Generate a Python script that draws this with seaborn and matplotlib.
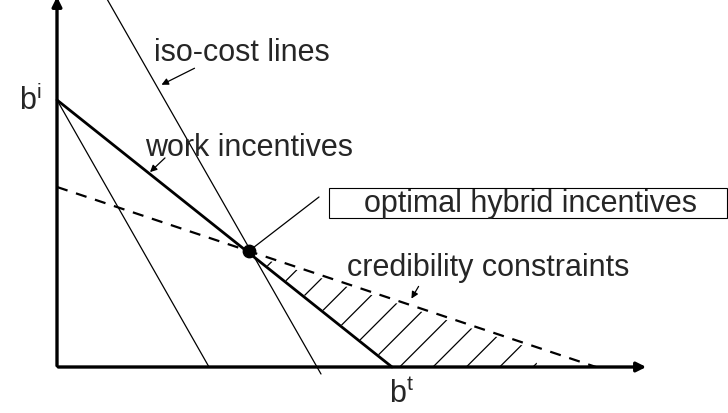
import matplotlib
matplotlib.use("Agg")
import matplotlib.pyplot as plt
import matplotlib.patches as mpatches
import seaborn as sns

# diagram data (units: b^t horizontal, b^i vertical, origin at the axes corner)
work_bt = [0, 335]
work_bi = [267, 0]
cred_bt = [0, 539]
cred_bi = [180, 0]
iso1_bt = [0, 152]
iso1_bi = [267, 0]
iso2_bt = [50, 264]
iso2_bi = [368, -7]
optimum = (192, 116)
hatch_bt = [198, 337, 482, 470]
hatch_bi = [111, 0, 0, 20]

sns.set_theme(style="white")
plt.rcParams['font.family'] = ['Liberation Sans', 'DejaVu Sans']
plt.rcParams['hatch.linewidth'] = 0.9
plt.rcParams['mathtext.fontset'] = 'custom'
plt.rcParams['mathtext.rm'] = 'Liberation Sans'

fig = plt.figure(figsize=(7.28, 4.14), dpi=100)
ax = fig.add_axes([0, 0, 1, 1])
ax.set_xlim(-57, 671)
ax.set_ylim(-46, 368)
ax.axis("off")

fs = 22

# hatched area
ax.fill(hatch_bt, hatch_bi, facecolor="none", edgecolor="black", hatch="/", linewidth=0)

# lines
sns.lineplot(x=iso1_bt, y=iso1_bi, ax=ax, color="black", linewidth=0.9, sort=False)
sns.lineplot(x=iso2_bt, y=iso2_bi, ax=ax, color="black", linewidth=0.9, sort=False)
sns.lineplot(x=work_bt, y=work_bi, ax=ax, color="black", linewidth=2.0, sort=False)
ax.plot(cred_bt, cred_bi, color="black", linewidth=1.6, dashes=(5, 4))

# axes with arrows
ax.annotate("", xy=(0, 373), xytext=(0, -1.5), annotation_clip=False,
            arrowprops=dict(arrowstyle="-|>", color="black", lw=2.4, mutation_scale=14))
ax.annotate("", xy=(592, 0), xytext=(-1.5, 0), annotation_clip=False,
            arrowprops=dict(arrowstyle="-|>", color="black", lw=2.4, mutation_scale=14))

ax.scatter([optimum[0]], [optimum[1]], s=80, color="black", zorder=5)

# axis labels
ax.text(-27, 267, r"b$^{\mathregular{i}}$", fontsize=fs, ha="center", va="center")
ax.text(345, -27, r"b$^{\mathregular{t}}$", fontsize=fs, ha="center", va="center")

# annotations
ax.text(185, 315, "iso-cost lines", fontsize=fs, ha="center", va="center")
ax.annotate("", xy=(102, 281), xytext=(140, 300),
            arrowprops=dict(arrowstyle="-|>", color="black", lw=0.9, mutation_scale=10))

ax.text(192, 220, "work incentives", fontsize=fs, ha="center", va="center")
ax.annotate("", xy=(91, 193), xytext=(110, 211),
            arrowprops=dict(arrowstyle="-|>", color="black", lw=0.9, mutation_scale=10))

ax.add_patch(mpatches.Rectangle((272, 149), 398, 30, fill=False, edgecolor="black",
                                linewidth=0.8, clip_on=False))
ax.text(474, 164, "optimal hybrid incentives", fontsize=fs, ha="center", va="center")
ax.plot([262, optimum[0]], [170, optimum[1]], color="black", linewidth=0.9)

ax.text(431, 100, "credibility constraints", fontsize=fs, ha="center", va="center")
ax.annotate("", xy=(353, 66), xytext=(363, 83),
            arrowprops=dict(arrowstyle="-|>", color="black", lw=0.9, mutation_scale=10))

fig.savefig("out.png", dpi=100)
